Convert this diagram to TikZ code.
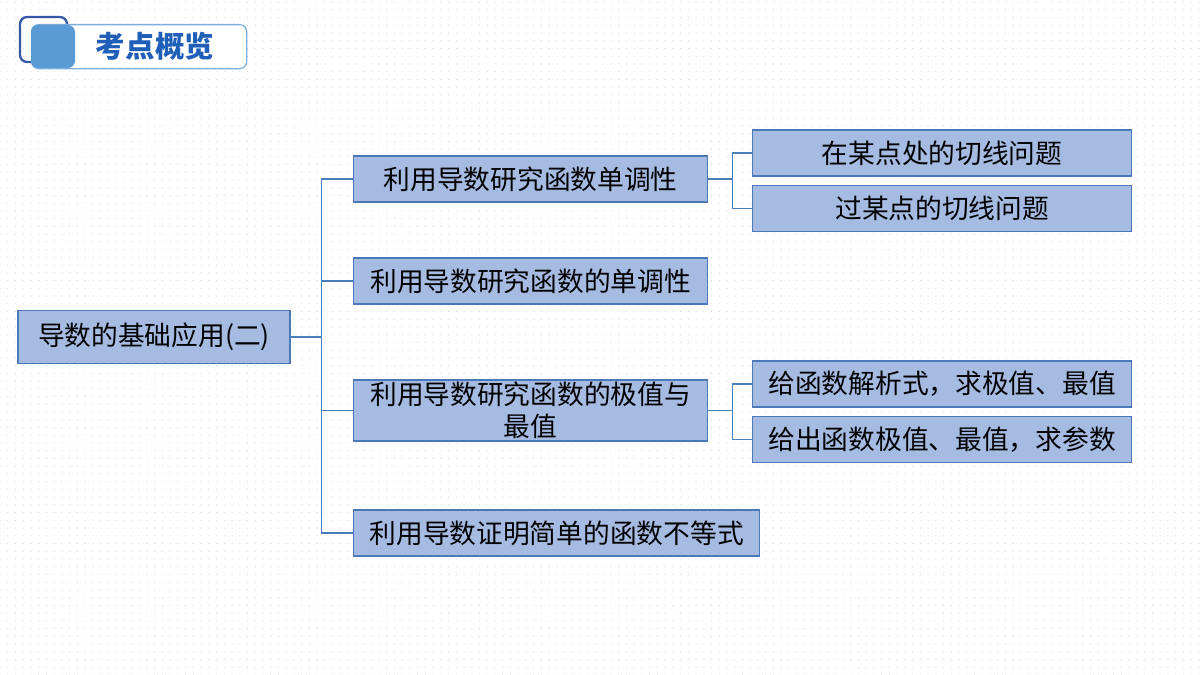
\documentclass[tikz,border=0pt]{standalone}
\usepackage{fontspec}
\setmainfont{Noto Sans CJK SC}
\usetikzlibrary{positioning,calc,patterns.meta}
\definecolor{boxfill}{HTML}{A5BBE2}
\definecolor{boxline}{HTML}{4A78B8}
\definecolor{linkcol}{HTML}{4A7EBB}
\definecolor{tagblue}{HTML}{5B9BD5}
\definecolor{tagdark}{HTML}{3558A8}
\definecolor{tagtext}{HTML}{1F5FB8}

\begin{document}
\begin{tikzpicture}[x=0.025cm, y=-0.025cm,
    topic/.style={rectangle, draw=boxline, fill=boxfill, line width=0.9pt, minimum height=1.15cm, inner sep=0pt, align=center, font=\fontsize{19}{23}\selectfont, text=black},
    link/.style={draw=linkcol, line width=0.8pt},
    node distance=0.2cm
]
\useasboundingbox[fill=white] (0,0) rectangle (1200,675);
\fill[pattern={Dots[distance=5.5pt, radius=0.35pt]}, pattern color=black!22] (0,0) rectangle (1200,675);

\draw[tagdark, line width=1.6pt, rounded corners=5pt] (20,17) rectangle (67,62);
\node[draw=tagblue!80, fill=white, rounded corners=5pt, line width=0.9pt, minimum width=5.375cm, minimum height=1.1cm, inner sep=0pt, anchor=north west] (tagbox) at (31,24) {};
\fill[tagblue, rounded corners=5pt] (31,25) rectangle (75,68);
\node[font=\fontsize{21}{25}\selectfont\bfseries, text=tagtext] (tag) at (155,46) {考点概览};

\node[topic, minimum width=6.8cm, minimum height=1.325cm] (root) at (154,337) {导数的基础应用(二)};

\node[topic, minimum width=8.85cm, anchor=west] (mono) at (353,179) {利用导数研究函数单调性};
\node[topic, minimum width=8.85cm, anchor=west] (deriv) at (353,281) {利用导数研究函数的单调性};
\node[topic, minimum width=8.85cm, minimum height=1.525cm, anchor=west] (extreme) at (353,410.5) {利用导数研究函数的极值与\\最值};
\node[topic, minimum width=10.15cm, anchor=west] (ineq) at (353,533) {利用导数证明简单的函数不等式};

\node[topic, minimum width=9.475cm, anchor=west] (tanat) at (752,153) {在某点处的切线问题};
\node[topic, minimum width=9.475cm, below=of tanat] (tanthru) {过某点的切线问题};
\node[topic, minimum width=9.475cm, anchor=west] (given) at (752,384) {给函数解析式，求极值、最值};
\node[topic, minimum width=9.475cm, below=of given] (param) {给出函数极值、最值，求参数};

\coordinate (hub) at ($(root.east)+(31,0)$);
\draw[link] (root.east) -- (hub);
\foreach \n in {mono,deriv,extreme,ineq}
    \draw[link] (hub) |- (\n.west);

\coordinate (monohub) at ($(mono.east)+(24,0)$);
\draw[link] (mono.east) -- (monohub);
\foreach \n in {tanat,tanthru}
    \draw[link] (monohub) |- (\n.west);

\coordinate (extremehub) at ($(extreme.east)+(24,0)$);
\draw[link] (extreme.east) -- (extremehub);
\foreach \n in {given,param}
    \draw[link] (extremehub) |- (\n.west);
\end{tikzpicture}
\end{document}
